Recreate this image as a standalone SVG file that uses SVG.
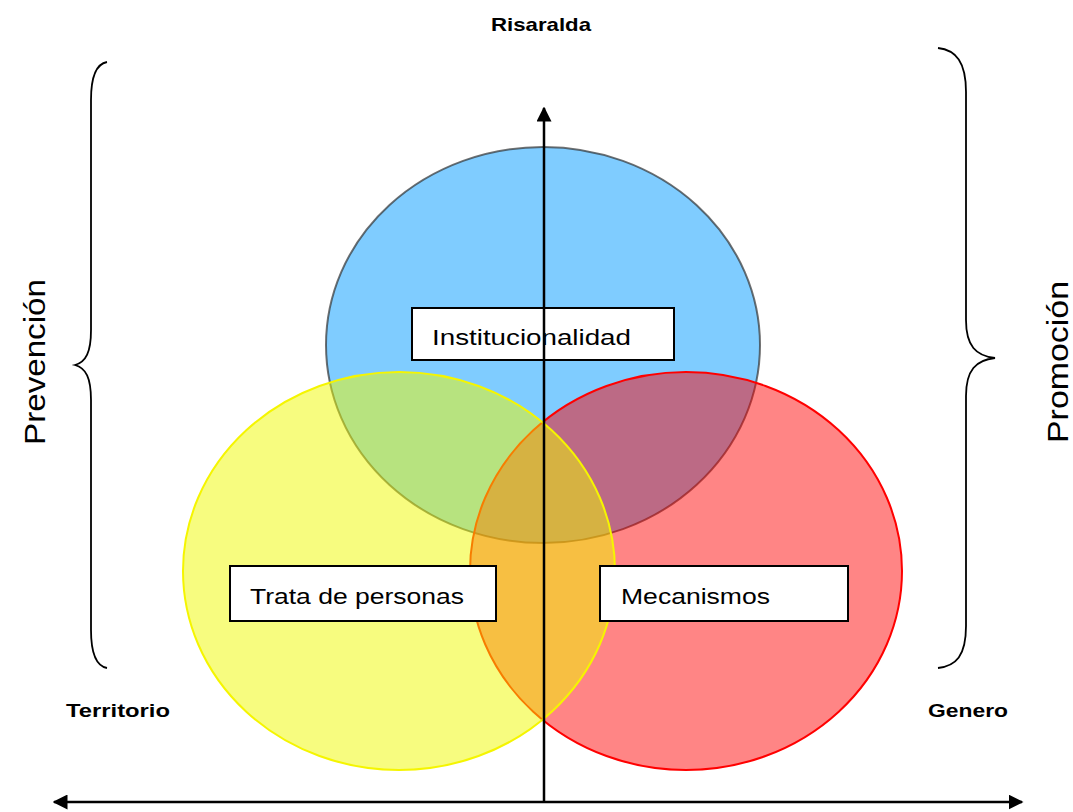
<svg xmlns="http://www.w3.org/2000/svg" width="1073" height="812" viewBox="0 0 1073 812">
<style>
.lbl{font-family:"Liberation Sans",Arial,sans-serif;font-size:22px;fill:#000}
.bold{font-family:"Liberation Sans",Arial,sans-serif;font-size:19px;font-weight:bold;fill:#000}
.side{font-family:"Liberation Sans",Arial,sans-serif;font-size:29px;fill:#000}
.box{fill:#fff;stroke:#000;stroke-width:2}
.brace{fill:none;stroke:#000;stroke-width:1.8}
</style>
<defs>
<marker id="ah" viewBox="0 0 10 10" refX="9" refY="5" markerWidth="6" markerHeight="6" orient="auto-start-reverse" markerUnits="strokeWidth">
<path d="M0,0 L10,5 L0,10 z" fill="#000"/>
</marker>
</defs>
<rect width="1073" height="812" fill="#fff"/>
<g id="circle-institucionalidad">
<ellipse cx="543" cy="345" rx="217" ry="198" fill="#0099FF" fill-opacity="0.5" stroke="#333" stroke-opacity="0.7" stroke-width="2"/>
</g>
<g id="circle-mecanismos">
<ellipse cx="686" cy="571" rx="216" ry="199" fill="#FF0000" fill-opacity="0.48" stroke="#FF0000" stroke-width="2"/>
</g>
<g id="circle-trata">
<ellipse cx="399" cy="571" rx="216" ry="199" fill="#F0FA00" fill-opacity="0.5" stroke="#F5F500" stroke-width="2"/>
</g>
<g id="node-institucionalidad">
<rect class="box" x="412" y="308" width="262" height="52"/>
<text class="lbl" x="432" y="345" textLength="199" lengthAdjust="spacingAndGlyphs">Institucionalidad</text>
</g>
<g id="node-trata">
<rect class="box" x="230" y="566" width="266" height="55"/>
<text class="lbl" x="250" y="604" textLength="214" lengthAdjust="spacingAndGlyphs">Trata de personas</text>
</g>
<g id="node-mecanismos">
<rect class="box" x="600" y="566" width="248" height="55"/>
<text class="lbl" x="621" y="604" textLength="149" lengthAdjust="spacingAndGlyphs">Mecanismos</text>
</g>
<g id="connectors">
<line x1="544" y1="803" x2="544" y2="108" stroke="#000" stroke-width="2.5" marker-end="url(#ah)"/>
<line x1="54" y1="802" x2="1022" y2="802" stroke="#000" stroke-width="2.5" marker-start="url(#ah)" marker-end="url(#ah)"/>
</g>
<g id="node-risaralda">
<text class="bold" x="541" y="31" text-anchor="middle" textLength="100" lengthAdjust="spacingAndGlyphs">Risaralda</text>
</g>
<g id="node-territorio">
<text class="bold" x="66" y="717" textLength="104" lengthAdjust="spacingAndGlyphs">Territorio</text>
</g>
<g id="node-genero">
<text class="bold" x="928" y="717" textLength="80" lengthAdjust="spacingAndGlyphs">Genero</text>
</g>
<g id="brace-prevencion">
<path class="brace" d="M107,62 C96,64 91,76 91,100 L91,330 C91,352 86,362 75,365 C86,368 91,378 91,400 L91,630 C91,654 96,666 107,668"/>
<text class="side" transform="translate(45,362) rotate(-90)" text-anchor="middle" textLength="166" lengthAdjust="spacingAndGlyphs">Prevención</text>
</g>
<g id="brace-promocion">
<path class="brace" d="M938,48 C956,50 966,62 966,92 L966,320 C966,346 976,356 995,358 C976,360 966,370 966,396 L966,626 C966,656 956,666 938,668"/>
<text class="side" transform="translate(1068,362) rotate(-90)" text-anchor="middle" textLength="162" lengthAdjust="spacingAndGlyphs">Promoción</text>
</g>
</svg>
